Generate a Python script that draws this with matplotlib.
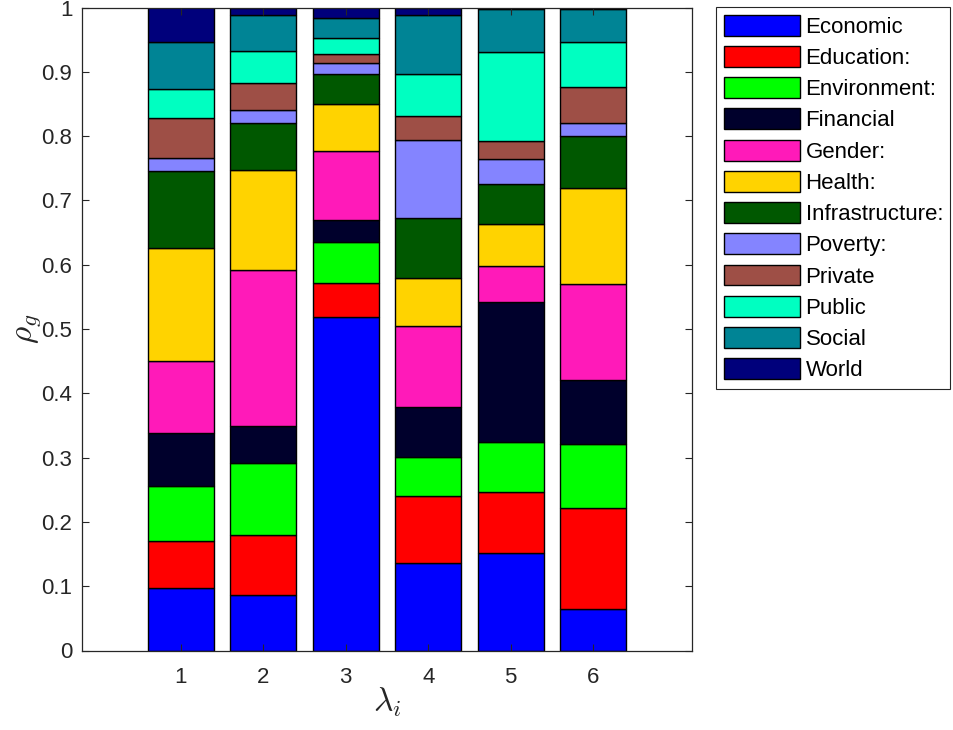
import matplotlib
matplotlib.use("Agg")
import matplotlib.pyplot as plt
import numpy as np

plt.rcParams['font.family'] = ['Liberation Sans', 'DejaVu Sans']
plt.rcParams['mathtext.fontset'] = 'cm'

groups = [1, 2, 3, 4, 5, 6]
categories = ['Economic', 'Education:', 'Environment:', 'Financial', 'Gender:', 'Health:',
              'Infrastructure:', 'Poverty:', 'Private', 'Public', 'Social', 'World']

# share of each category for lambda_i = 1..6
economic       = [0.097, 0.086, 0.518, 0.1355, 0.152, 0.064]
education      = [0.073, 0.094, 0.054, 0.1045, 0.0946, 0.158]
environment    = [0.086, 0.112, 0.064, 0.061, 0.0774, 0.0997]
financial      = [0.0825, 0.057, 0.033, 0.078, 0.2185, 0.099]
gender         = [0.1125, 0.242, 0.108, 0.125, 0.0561, 0.1486]
health         = [0.1757, 0.157, 0.073, 0.076, 0.064, 0.1495]
infrastructure = [0.119, 0.072, 0.047, 0.093, 0.0635, 0.082]
poverty        = [0.0206, 0.020, 0.016, 0.121, 0.039, 0.0194]
private        = [0.062, 0.042, 0.014, 0.037, 0.0275, 0.056]
public         = [0.045, 0.050, 0.025, 0.065, 0.1375, 0.0705]
social         = [0.0725, 0.057, 0.031, 0.092, 0.068, 0.0515]
world          = [0.0545, 0.011, 0.017, 0.012, 0.002, 0.002]

series = [economic, education, environment, financial, gender, health,
          infrastructure, poverty, private, public, social, world]

colors = [(0, 0, 1), (1, 0, 0), (0, 1, 0), (0, 0, 0.1724), (1, 0.1034, 0.7241),
          (1, 0.8276, 0), (0, 0.3448, 0), (0.5172, 0.5172, 1), (0.6207, 0.3103, 0.2759),
          (0, 1, 0.7586), (0, 0.5172, 0.5862), (0, 0, 0.4828)]

fig = plt.figure(figsize=(9.54, 7.3), dpi=100)
ax = fig.add_axes([82 / 954, 79.5 / 730, 610 / 954, 643 / 730])

x = np.array(groups)
bottom = np.zeros(len(groups))
for name, vals, c in zip(categories, series, colors):
    ax.bar(x, vals, width=0.8, bottom=bottom, color=c, edgecolor='black',
           linewidth=1.0, label=name)
    bottom += np.array(vals)

axc = (0.15, 0.15, 0.15)
ax.set_xlim(-0.2, 7.2)
ax.set_ylim(0, 1)
ax.set_xticks(groups)
ax.set_yticks(np.arange(0, 1.01, 0.1))
ax.set_yticklabels(['0', '0.1', '0.2', '0.3', '0.4', '0.5', '0.6', '0.7', '0.8', '0.9', '1'])
ax.tick_params(direction='in', top=True, right=True, labelsize=16, colors=axc,
               length=5, width=0.8)
ax.tick_params(axis='y', pad=7)
ax.tick_params(axis='x', pad=12)
for s in ax.spines.values():
    s.set_color(axc)
    s.set_linewidth(0.9)

ax.set_ylabel(r'$\rho_g$', fontsize=24, color=axc, labelpad=-1)
ax.set_xlabel(r'$\lambda_i$', fontsize=24, color=axc, labelpad=-2)

leg = fig.legend(loc='upper left', bbox_to_anchor=(716.5 / 954, 1 - 7.3 / 730),
                 fontsize=16, handlelength=3.42, handleheight=1.07, labelspacing=0.37,
                 handletextpad=0.26, borderpad=0.33, borderaxespad=0, fancybox=False,
                 edgecolor=axc, framealpha=1)
leg.get_frame().set_linewidth(0.8)

fig.savefig('out.png', dpi=100)
